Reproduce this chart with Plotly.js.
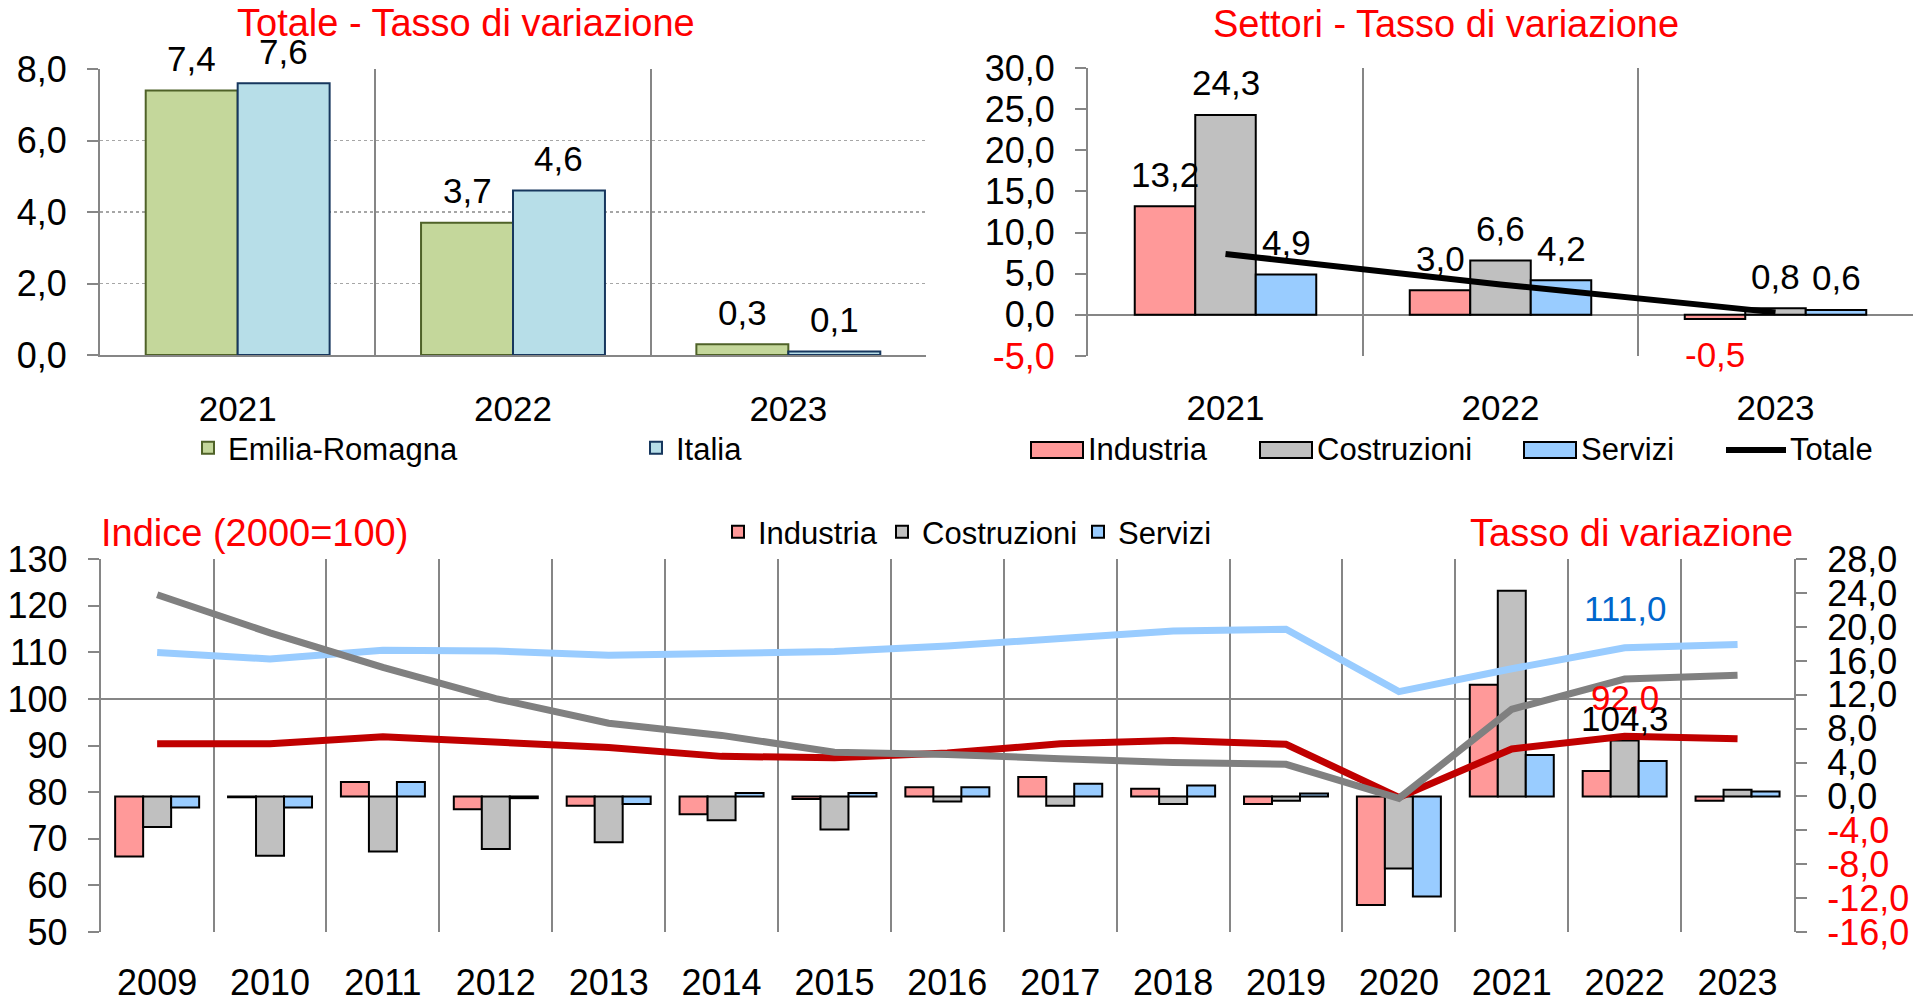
<!DOCTYPE html>
<html><head><meta charset="utf-8">
<script src="https://cdn.plot.ly/plotly-3.0.1.min.js"></script>
<style>html,body{margin:0;padding:0;background:#fff;}#chart{width:1926px;height:1004px;}</style>
</head><body><div id="chart"></div>
<script>
// ---------------- DATA ----------------
const anniTop = ['2021', '2022', '2023'];
const totaleER = [7.4, 3.7, 0.3];
const totaleItalia = [7.6, 4.6, 0.1];

const settIndustria = [13.2, 3.0, -0.5];
const settCostruzioni = [24.3, 6.6, 0.8];
const settServizi = [4.9, 4.2, 0.6];
const settTotale = [7.4, 3.7, 0.3];

const anni = ['2009','2010','2011','2012','2013','2014','2015','2016','2017','2018','2019','2020','2021','2022','2023'];
const tassoIndustria   = [-7.1, -0.1, 1.7, -1.5, -1.1, -2.1, -0.3, 1.1, 2.3, 0.9, -0.9, -12.8, 13.2, 3.0, -0.5];
const tassoCostruzioni = [-3.6, -7.0, -6.5, -6.2, -5.4, -2.8, -3.9, -0.6, -1.1, -0.9, -0.5, -8.5, 24.3, 6.6, 0.8];
const tassoServizi     = [-1.3, -1.3, 1.7, -0.2, -0.9, 0.4, 0.4, 1.1, 1.5, 1.3, 0.35, -11.8, 4.9, 4.2, 0.6];
const indiceIndustria   = [90.4, 90.4, 91.9, 90.6, 89.6, 87.7, 87.4, 88.4, 90.4, 91.1, 90.3, 78.9, 89.3, 92.0, 91.5];
const indiceCostruzioni = [122.4, 114.2, 106.8, 100.1, 94.8, 92.2, 88.6, 88.1, 87.2, 86.4, 86.0, 78.7, 97.8, 104.3, 105.1];
const indiceServizi     = [110.0, 108.6, 110.5, 110.3, 109.4, 109.8, 110.2, 111.4, 113.1, 114.6, 115.0, 101.6, 106.5, 111.0, 111.7];
const annoEtichetta = '2022';

const tickTotale = [0, 2, 4, 6, 8];
const tickSettori = [-5, 0, 5, 10, 15, 20, 25, 30];
const tickIndice = [50, 60, 70, 80, 90, 100, 110, 120, 130];
const tickTasso = [-16, -12, -8, -4, 0, 4, 8, 12, 16, 20, 24, 28];

// ---------------- HELPERS ----------------
const W = 1926, H = 1004;
const px = x => x / W;
const py = y => 1 - y / H;
const FONT = 'Liberation Sans, Arial, sans-serif';
const RED = '#FF0000';
const AX = '#868686';
const fmt1 = v => v.toFixed(1).replace('.', ',');
const tick1 = v => v < 0 ? '<span style="color:' + RED + '">' + fmt1(v) + '</span>' : fmt1(v);

const traces = [];
// Top-left
traces.push({type:'bar', name:'Emilia-Romagna', x:anniTop, y:totaleER, xaxis:'x', yaxis:'y',
  width:0.334, offset:-0.334, marker:{color:'#C4D79B', line:{color:'#4F6228', width:2}},
  legend:'legend', legendwidth:403, hoverinfo:'skip'});
traces.push({type:'bar', name:'Italia', x:anniTop, y:totaleItalia, xaxis:'x', yaxis:'y',
  width:0.334, offset:0, marker:{color:'#B7DEE8', line:{color:'#17375E', width:2}},
  legend:'legend', hoverinfo:'skip'});
// Top-right
const settSeries = [
  {name:'Industria', y:settIndustria, color:'#FF9999', off:-0.33},
  {name:'Costruzioni', y:settCostruzioni, color:'#C0C0C0', off:-0.11},
  {name:'Servizi', y:settServizi, color:'#99CCFF', off:0.11}
];
settSeries.forEach(s => traces.push({type:'bar', name:s.name, x:anniTop, y:s.y, xaxis:'x2', yaxis:'y2',
  width:0.22, offset:s.off, marker:{color:s.color, line:{color:'#000', width:2}}, showlegend:false, hoverinfo:'skip'}));
traces.push({type:'scatter', mode:'lines', name:'Totale', x:anniTop, y:settTotale, xaxis:'x2', yaxis:'y2',
  line:{color:'#000', width:6}, showlegend:false, hoverinfo:'skip'});
// Bottom bars
const botSeries = [
  {name:'Industria', y:tassoIndustria, color:'#FF9999', off:-0.372, lw:119},
  {name:'Costruzioni', y:tassoCostruzioni, color:'#C0C0C0', off:-0.124, lw:151},
  {name:'Servizi', y:tassoServizi, color:'#99CCFF', off:0.124}
];
botSeries.forEach(s => {
  const t = {type:'bar', name:s.name, x:anni, y:s.y, xaxis:'x3', yaxis:'y3',
    width:0.248, offset:s.off, marker:{color:s.color, line:{color:'#000', width:2}}, legend:'legend3', hoverinfo:'skip'};
  if (s.lw) t.legendwidth = s.lw;
  traces.push(t);
});
// Bottom lines
const lineSeries = [
  {name:'Industria (indice)', y:indiceIndustria, color:'#C00000', lab:RED, shift:39},
  {name:'Servizi (indice)', y:indiceServizi, color:'#99CCFF', lab:'#0066CC', shift:39},
  {name:'Costruzioni (indice)', y:indiceCostruzioni, color:'#808080', lab:'#000000', shift:-39}
];
lineSeries.forEach(s => traces.push({type:'scatter', mode:'lines', name:s.name, x:anni, y:s.y, xaxis:'x3', yaxis:'y4',
  line:{color:s.color, width:7}, showlegend:false, hoverinfo:'skip'}));

// ---------------- ANNOTATIONS ----------------
const ann = [];
const title = (text, x, y, anchor) => ann.push({text, xref:'paper', yref:'paper', x:px(x), y:py(y),
  xanchor:anchor, yanchor:'middle', showarrow:false, borderpad:0, font:{family:FONT, size:38, color:RED}});
title('Totale - Tasso di variazione', 466, 23, 'center');
title('Settori - Tasso di variazione', 1446, 24, 'center');
title('Indice (2000=100)', 100, 533, 'left');
title('Tasso di variazione', 1794, 533, 'right');

const barLabel = (xa, ya, xpos, v) => ann.push({text:fmt1(v), xref:xa, yref:ya, x:xpos, y:v,
  xanchor:'center', yanchor:'middle', yshift: v >= 0 ? 32 : -36, showarrow:false, borderpad:0,
  font:{family:FONT, size:35, color: v < 0 ? RED : '#000'}});
anniTop.forEach((a, i) => {
  barLabel('x', 'y', i - 0.167, totaleER[i]);
  barLabel('x', 'y', i + 0.167, totaleItalia[i]);
  settSeries.forEach(s => barLabel('x2', 'y2', i + s.off + 0.11, s.y[i]));
});
const iLab = anni.indexOf(annoEtichetta);
lineSeries.forEach(s => ann.push({text:fmt1(s.y[iLab]), xref:'x3', yref:'y4', x:iLab, y:s.y[iLab],
  xanchor:'center', yanchor:'middle', yshift:s.shift, showarrow:false, borderpad:0,
  font:{family:FONT, size:35, color:s.lab}}));

// Custom legend for the top-right panel
const legItems = [
  {name:'Industria', color:'#FF9999', x0:1031, x1:1083, tx:1087},
  {name:'Costruzioni', color:'#C0C0C0', x0:1260, x1:1312, tx:1316},
  {name:'Servizi', color:'#99CCFF', x0:1524, x1:1576, tx:1580}
];
const shapes = [];
legItems.forEach(l => {
  shapes.push({type:'rect', xref:'paper', yref:'paper', x0:px(l.x0), x1:px(l.x1), y0:py(458), y1:py(442),
    fillcolor:l.color, line:{color:'#000', width:2}});
  ann.push({text:l.name, xref:'paper', yref:'paper', x:px(l.tx), y:py(449), xanchor:'left', yanchor:'middle',
    showarrow:false, borderpad:0, font:{family:FONT, size:31, color:'#000'}});
});
shapes.push({type:'line', xref:'paper', yref:'paper', x0:px(1726), x1:px(1786), y0:py(450), y1:py(450),
  line:{color:'#000', width:6}});
ann.push({text:'Totale', xref:'paper', yref:'paper', x:px(1789), y:py(449), xanchor:'left', yanchor:'middle',
  showarrow:false, borderpad:0, font:{family:FONT, size:31, color:'#000'}});
// 100 reference line on index axis
shapes.push({type:'line', xref:'x3 domain', x0:0, x1:1, yref:'y4', y0:100, y1:100,
  line:{color:AX, width:2}, layer:'below'});

// ---------------- LAYOUT ----------------
const xcat = (dom, anchor, n, extra) => Object.assign({domain:dom, anchor, type:'category', range:[-0.5, n - 0.5],
  showgrid:true, gridcolor:AX, gridwidth:2, tickson:'boundaries', ticks:'', ticklen:0,
  tickfont:{family:FONT, size:35, color:'#000'}, ticklabelstandoff:22, zeroline:false, fixedrange:true}, extra || {});
const yax = (dom, anchor, range, vals, texts, extra) => Object.assign({domain:dom, anchor, range,
  tickmode:'array', tickvals:vals, ticktext:texts, ticks:'outside', ticklen:11, tickwidth:2, tickcolor:AX,
  showline:true, linecolor:AX, linewidth:2, showgrid:false, zeroline:false,
  tickfont:{family:FONT, size:36, color:'#000'}, ticklabelstandoff:13, fixedrange:true}, extra || {});

const layout = {
  width:W, height:H, margin:{l:0, r:0, t:0, b:0, autoexpand:false},
  paper_bgcolor:'#FFFFFF', plot_bgcolor:'rgba(0,0,0,0)',
  font:{family:FONT, size:35, color:'#000'},
  separators:',.', barmode:'overlay', showlegend:true, hovermode:false,
  xaxis: xcat([px(100), px(926)], 'y', 3, {showline:true, linecolor:AX, linewidth:2}),
  yaxis: yax([py(355), py(69)], 'x', [0, 8], tickTotale, tickTotale.map(tick1),
    {showgrid:true, gridcolor:'#A6A6A6', griddash:'dot', gridwidth:1.5}),
  xaxis2: xcat([px(1088), px(1913)], 'y2', 3, {showline:false, ticklabelstandoff:28}),
  yaxis2: yax([py(356), py(68)], 'x2', [-5, 30], tickSettori, tickSettori.map(tick1),
    {zeroline:true, zerolinecolor:AX, zerolinewidth:2}),
  xaxis3: xcat([px(100.7), px(1794)], 'y3', anni.length, {showline:false, ticklabelstandoff:26,
    tickfont:{family:FONT, size:36, color:'#000'}}),
  yaxis3: yax([py(932), py(559.3)], 'x3', [-16, 28], tickTasso, tickTasso.map(tick1), {side:'right'}),
  yaxis4: yax([py(932), py(559.3)], 'x3', [50, 130], tickIndice, tickIndice.map(String), {side:'left', overlaying:'y3'}),
  legend: {orientation:'h', x:px(188), xanchor:'left', y:py(448), yanchor:'middle', bgcolor:'rgba(0,0,0,0)',
    font:{family:FONT, size:31, color:'#000'}},
  legend3: {orientation:'h', x:px(718), xanchor:'left', y:py(532), yanchor:'middle', bgcolor:'rgba(0,0,0,0)',
    font:{family:FONT, size:31, color:'#000'}},
  annotations: ann,
  shapes: shapes
};

Plotly.newPlot('chart', traces, layout, {displayModeBar:false, staticPlot:true});
</script>
</body></html>
